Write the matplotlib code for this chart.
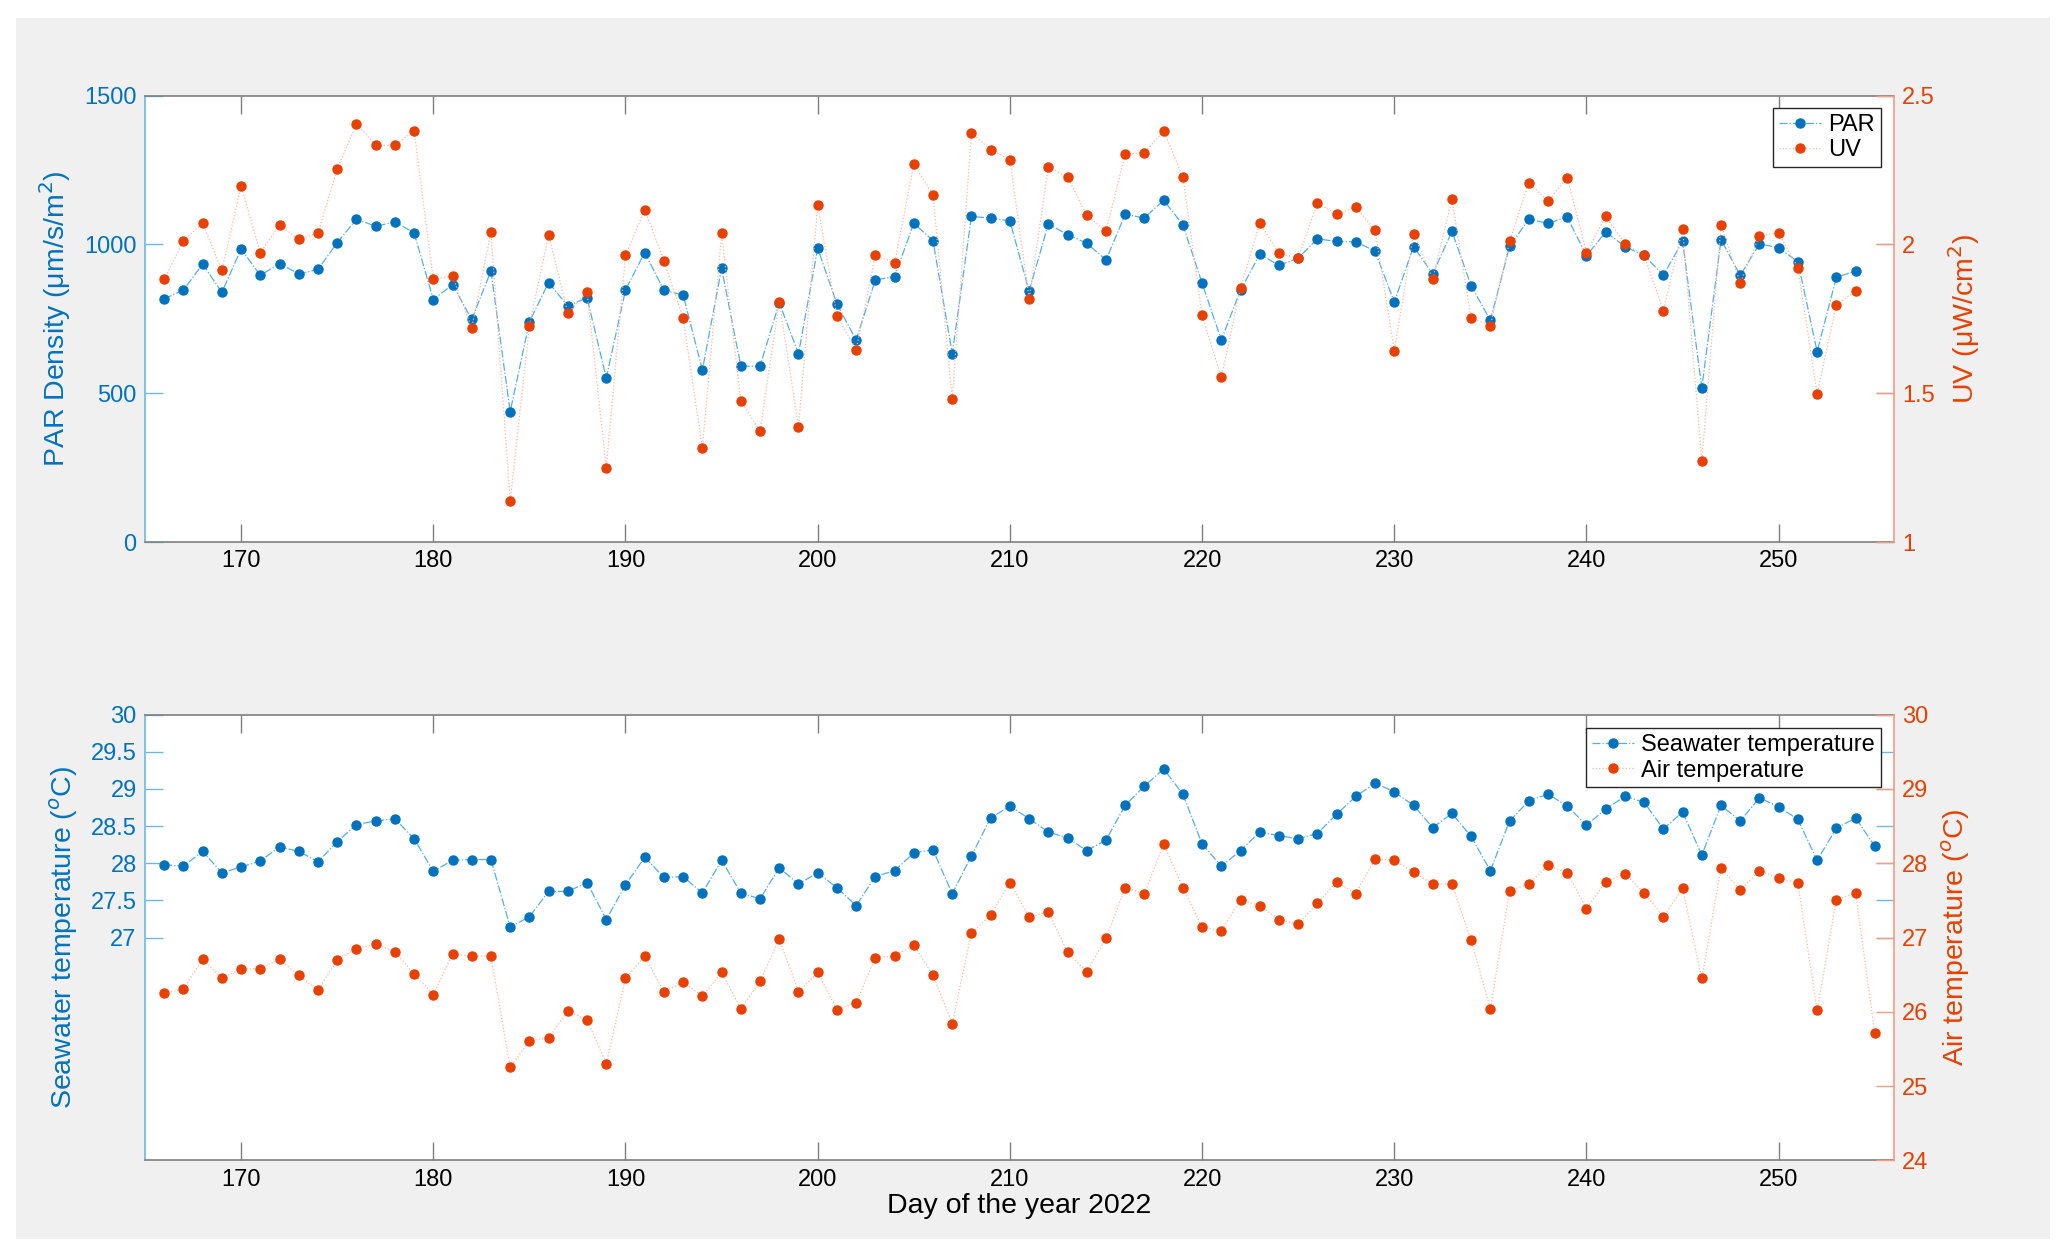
import numpy as np
import matplotlib.pyplot as plt
from matplotlib.patches import Rectangle

plt.rcParams['font.family'] = ['Liberation Sans', 'DejaVu Sans']

# 光量データ（日166〜254）
days_light = np.arange(166, 255)
par = [817, 847, 934, 839, 985, 896, 936, 901, 916, 1006, 1085, 1061, 1076, 1039,
       815, 865, 748, 911, 438, 740, 872, 793, 821, 551, 847, 973, 846, 830, 578,
       920, 591, 591, 804, 633, 987, 800, 679, 881, 892, 1071, 1013, 633, 1094,
       1089, 1079, 843, 1069, 1033, 1004, 948, 1101, 1089, 1149, 1066, 870, 679,
       846, 967, 930, 954, 1019, 1010, 1009, 978, 806, 993, 901, 1044, 861, 745,
       994, 1085, 1071, 1092, 962, 1042, 993, 963, 897, 1010, 518, 1016, 896,
       1002, 989, 942, 640, 889, 911]
uv = [1.883, 2.012, 2.072, 1.913, 2.196, 1.972, 2.066, 2.017, 2.039, 2.253, 2.405,
      2.334, 2.333, 2.382, 1.883, 1.894, 1.719, 2.042, 1.137, 1.727, 2.033, 1.769,
      1.840, 1.249, 1.963, 2.117, 1.945, 1.752, 1.316, 2.037, 1.474, 1.373, 1.807,
      1.388, 2.133, 1.760, 1.646, 1.963, 1.938, 2.269, 2.167, 1.480, 2.374, 2.319,
      2.284, 1.818, 2.260, 2.227, 2.099, 2.044, 2.304, 2.309, 2.381, 2.227, 1.762,
      1.553, 1.854, 2.071, 1.970, 1.954, 2.140, 2.101, 2.126, 2.048, 1.643, 2.036,
      1.885, 2.152, 1.753, 1.727, 2.010, 2.208, 2.145, 2.225, 1.973, 2.094, 2.003,
      1.963, 1.778, 2.053, 1.271, 2.066, 1.870, 2.030, 2.039, 1.922, 1.498, 1.797,
      1.843]

# 温度データ（日166〜255）
days_temp = np.arange(166, 256)
sea_t = [27.98, 27.96, 28.16, 27.87, 27.95, 28.03, 28.22, 28.16, 28.02, 28.29,
         28.52, 28.57, 28.60, 28.33, 27.89, 28.04, 28.05, 28.05, 27.14, 27.28,
         27.62, 27.62, 27.74, 27.24, 27.71, 28.08, 27.81, 27.82, 27.60, 28.04,
         27.60, 27.52, 27.94, 27.72, 27.87, 27.67, 27.43, 27.82, 27.90, 28.14,
         28.18, 27.59, 28.10, 28.61, 28.77, 28.60, 28.42, 28.34, 28.17, 28.31,
         28.78, 29.04, 29.27, 28.93, 28.26, 27.96, 28.17, 28.42, 28.37, 28.33,
         28.40, 28.66, 28.90, 29.08, 28.96, 28.78, 28.48, 28.67, 28.36, 27.90,
         28.57, 28.84, 28.93, 28.77, 28.51, 28.73, 28.90, 28.82, 28.46, 28.69,
         28.11, 28.78, 28.57, 28.88, 28.76, 28.59, 28.04, 28.47, 28.61, 28.23]
air_t = [26.25, 26.31, 26.71, 26.45, 26.58, 26.58, 26.71, 26.49, 26.29, 26.70,
         26.85, 26.91, 26.81, 26.51, 26.23, 26.78, 26.75, 26.75, 25.25, 25.61,
         25.65, 26.01, 25.89, 25.30, 26.45, 26.75, 26.27, 26.40, 26.21, 26.53,
         26.04, 26.41, 26.98, 26.27, 26.53, 26.03, 26.12, 26.73, 26.75, 26.90,
         26.49, 25.84, 27.06, 27.30, 27.74, 27.27, 27.35, 26.80, 26.54, 26.99,
         27.67, 27.59, 28.26, 27.67, 27.14, 27.09, 27.51, 27.43, 27.24, 27.18,
         27.46, 27.75, 27.59, 28.06, 28.04, 27.88, 27.72, 27.72, 26.96, 26.04,
         27.63, 27.72, 27.97, 27.87, 27.39, 27.75, 27.86, 27.60, 27.28, 27.66,
         26.45, 27.94, 27.64, 27.90, 27.80, 27.73, 26.02, 27.51, 27.60, 25.71]

x_ticks = [170, 180, 190, 200, 210, 220, 230, 240, 250]

BLUE = '#0072BD'
BLUE_LINE = '#55AEE3'
BLUE_AX = '#6CB8E6'
RED = '#E84000'
RED_LINE = '#FFB49C'
RED_AX = '#F59C80'
GRAY = '#7F7F7F'

W, H = 2067, 1257
fig = plt.figure(figsize=(W / 100, H / 100), dpi=100, facecolor='white')
fig.patches.append(Rectangle((16 / W, 18 / H), (2050 - 16) / W, (1239 - 18) / H,
                             transform=fig.transFigure, facecolor='#F0F0F0',
                             edgecolor='none', zorder=-10))

left, width = 145 / W, (1894 - 145) / W
ax1 = fig.add_axes([left, 1 - 542 / H, width, (542 - 95.7) / H])
ax3 = fig.add_axes([left, 1 - 1160.3 / H, width, (1160.3 - 714.7) / H])

TS = 17    # tick font
LS = 20.5  # label font
MS = 6.5


def style_pair(ax, axr):
    ax.set_xlim(165, 256)
    ax.set_xticks(x_ticks)
    ax.tick_params(axis='x', direction='in', length=13, width=1, color=GRAY,
                   top=True, labelsize=TS, pad=6, labelcolor='black')
    ax.tick_params(axis='y', direction='in', length=13, width=1, color=BLUE_AX,
                   right=True, labelsize=TS, labelcolor=BLUE, pad=6)
    for s in ('top', 'bottom'):
        ax.spines[s].set_color(GRAY)
        ax.spines[s].set_linewidth(1.2)
    ax.spines['left'].set_color(BLUE_AX)
    ax.spines['left'].set_linewidth(1.2)
    ax.spines['right'].set_visible(False)
    for s in ('top', 'bottom', 'left'):
        axr.spines[s].set_visible(False)
    axr.spines['right'].set_color(RED_AX)
    axr.spines['right'].set_linewidth(1.2)
    axr.tick_params(axis='y', direction='in', length=13, width=1, color=RED_AX,
                    labelsize=TS, labelcolor=RED, pad=6)


def add_legend(axr, handles, anchor):
    leg = axr.legend(handles=handles, loc='upper right', bbox_to_anchor=anchor,
                     borderaxespad=0, fancybox=False, edgecolor='#262626',
                     framealpha=1, fontsize=TS, handlelength=1.8,
                     handletextpad=0.3, borderpad=0.25, labelspacing=0.15)
    leg.get_frame().set_linewidth(1.0)


# 上段：PAR と UV
ax2 = ax1.twinx()
l1, = ax1.plot(days_light, par, linestyle='-.', lw=0.9, color=BLUE_LINE,
               marker='o', ms=MS, mfc=BLUE, mec=BLUE, label='PAR')
l2, = ax2.plot(days_light, uv, linestyle=':', lw=0.9, color=RED_LINE,
               marker='o', ms=MS, mfc=RED, mec=RED, label='UV')
ax1.set_ylim(0, 1500)
ax1.set_yticks([0, 500, 1000, 1500])
ax2.set_ylim(1, 2.5)
ax2.set_yticks([1, 1.5, 2, 2.5])
ax2.set_yticklabels(['1', '1.5', '2', '2.5'])
style_pair(ax1, ax2)
ax1.set_ylabel('PAR Density (μm/s/m$^2$)', fontsize=LS, color=BLUE, labelpad=8)
ax2.set_ylabel('UV (μW/cm$^2$)', fontsize=LS, color=RED, labelpad=8)
add_legend(ax2, [l1, l2], (0.9926, 0.9724))

# 下段：水温と気温
ax4 = ax3.twinx()
l3, = ax3.plot(days_temp, sea_t, linestyle='-.', lw=0.9, color=BLUE_LINE,
               marker='o', ms=MS, mfc=BLUE, mec=BLUE, label='Seawater temperature')
l4, = ax4.plot(days_temp, air_t, linestyle=':', lw=0.9, color=RED_LINE,
               marker='o', ms=MS, mfc=RED, mec=RED, label='Air temperature')
ax3.set_ylim(24, 30)
ax3.set_yticks([27, 27.5, 28, 28.5, 29, 29.5, 30])
ax3.set_yticklabels(['27', '27.5', '28', '28.5', '29', '29.5', '30'])
ax4.set_ylim(24, 30)
ax4.set_yticks([24, 25, 26, 27, 28, 29, 30])
style_pair(ax3, ax4)
ax3.set_ylabel('Seawater temperature ($^o$C)', fontsize=LS, color=BLUE, labelpad=8)
ax4.set_ylabel('Air temperature ($^o$C)', fontsize=LS, color=RED, labelpad=8)
ax3.set_xlabel('Day of the year 2022', fontsize=LS, labelpad=2)
add_legend(ax4, [l3, l4], (0.9926, 0.97))

fig.savefig('out.png', dpi=100, facecolor=fig.get_facecolor())
